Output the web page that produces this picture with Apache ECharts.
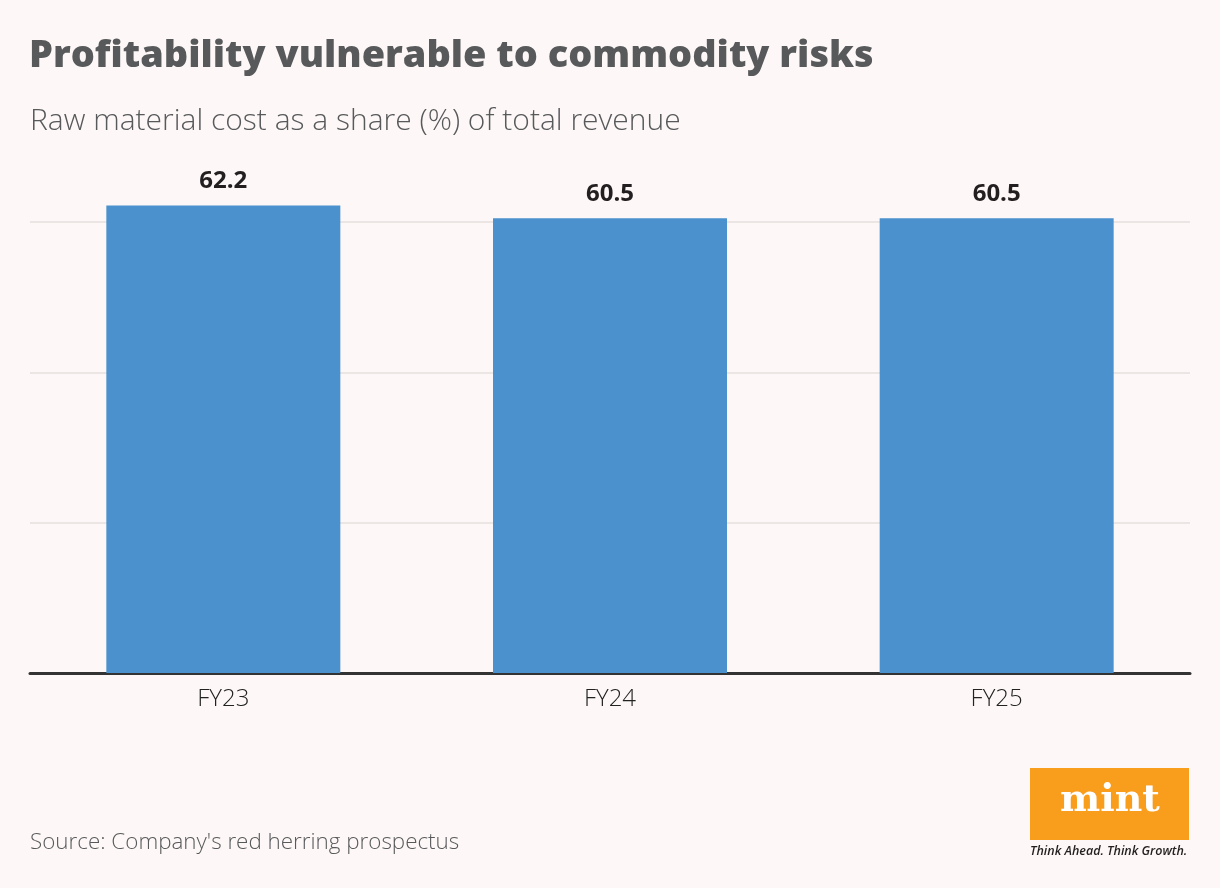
<!DOCTYPE html>
<html>
<head>
<meta charset="utf-8">
<style>
html,body{margin:0;padding:0;background:#FDF8F7;}
#c{width:1220px;height:888px;}
</style>
<script src="https://cdn.jsdelivr.net/npm/echarts@6/dist/echarts.min.js"></script>
</head>
<body>
<div id="c"></div>
<script>
const categories = ['FY23', 'FY24', 'FY25'];
const values = [62.2, 60.5, 60.5];
const yTicks = [0, 20, 40, 60];

const chart = echarts.init(document.getElementById('c'));
chart.setOption({
  backgroundColor: '#FDF8F7',
  animation: false,
  title: [
    { text: 'Profitability vulnerable to commodity risks', left: 24, top: 32,
      textStyle: { fontFamily: 'Open Sans', fontWeight: 800, fontSize: 37.9, color: '#58595B' } },
    { text: 'Raw material cost as a share (%) of total revenue', left: 25, top: 101,
      textStyle: { fontFamily: 'Open Sans', fontWeight: 300, fontSize: 30, color: '#58595B' } },
    { text: "Source: Company's red herring prospectus", left: 25, top: 827,
      textStyle: { fontFamily: 'Open Sans', fontWeight: 300, fontSize: 22.4, color: '#58595B' } }
  ],
  grid: { left: 30, right: 30, top: 222, bottom: 215 },
  xAxis: {
    type: 'category',
    data: categories,
    axisLine: { lineStyle: { color: '#333333', width: 3 } },
    axisTick: { show: false },
    axisLabel: { fontFamily: 'Open Sans', fontWeight: 300, fontSize: 24, color: '#222222', margin: 14 }
  },
  yAxis: {
    type: 'value',
    min: yTicks[0], max: yTicks[yTicks.length - 1], interval: 20,
    axisLabel: { show: false },
    axisLine: { show: false },
    axisTick: { show: false },
    splitLine: { lineStyle: { color: '#E4E0DE', width: 1.5 } }
  },
  series: [{
    type: 'bar',
    data: values,
    barWidth: 234,
    clip: false,
    itemStyle: { color: '#4A91CD' },
    label: {
      show: true, position: 'top', distance: 12,
      fontFamily: 'Open Sans', fontWeight: 'bold', fontSize: 24, color: '#231F20'
    }
  }],
  graphic: [
    { type: 'rect', shape: { x: 1030, y: 768, width: 159, height: 72 }, style: { fill: '#F99D1C' } },
    { type: 'text', x: 1110, y: 801, style: { text: 'mint', fill: '#FFFFFF', align: 'center', verticalAlign: 'middle',
      font: 'bold 38px "DejaVu Serif", serif' } },
    { type: 'text', left: 1030, top: 845, style: { text: 'Think Ahead. Think Growth.', fill: '#231F20',
      font: 'italic 600 12.5px "Open Sans", sans-serif' } }
  ]
});
</script>
</body>
</html>
